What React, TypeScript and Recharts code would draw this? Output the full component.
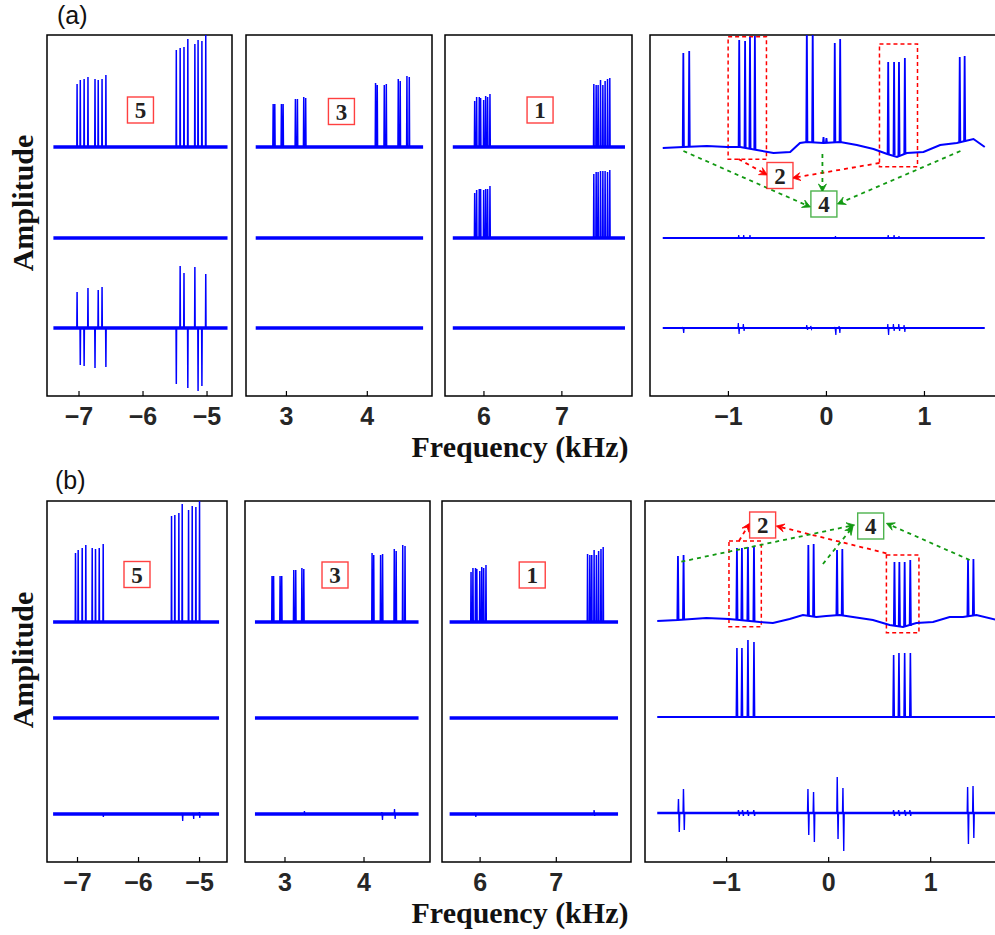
import React from 'react';
import { LineChart, Line, XAxis, YAxis, ReferenceArea, ReferenceLine, ReferenceDot } from 'recharts';

// plot box height; amplitude units are about one pixel each
const PLOT_H = 361;
const BLUE = '#0000ff';
const RED = '#ff0000';
const GREEN = '#119911';

// tick values per column
const TICKS_1 = [-7, -6, -5];
const TICKS_2 = [3, 4];
const TICKS_3 = [6, 7];
const TICKS_4 = [-1, 0, 1];

// frequency span of each trace (kHz)
const SPAN_1 = [-7.4, -4.68];
const SPAN_2 = [2.62, 4.69];
const SPAN_3 = [5.6, 7.81];
const SPAN_4A = [-1.67, 1.615];
const SPAN_4B = [-1.68, 1.65];

// baseline levels of the three traces
const BASE_A = [249, 158, 68];
const BASE_B = [240, 144, 48];

// ---- (a) peaks: [kHz, height]
const A1_TOP = [[-7.03, 63], [-6.98, 67], [-6.92, 68], [-6.86, 70], [-6.75, 68], [-6.7, 67], [-6.64, 68], [-6.58, 72],
  [-5.48, 97], [-5.42, 99], [-5.36, 100], [-5.3, 108], [-5.19, 103], [-5.14, 107], [-5.08, 106], [-5.02, 112]];
const A1_BOT = [[-7.03, 36], [-6.98, -37], [-6.92, -38], [-6.86, 40], [-6.75, -40], [-6.7, 38], [-6.64, 41], [-6.58, -39],
  [-5.48, -56], [-5.42, 62], [-5.36, 55], [-5.3, -60], [-5.19, 61], [-5.14, -63], [-5.08, -58], [-5.02, 54]];
const A2_TOP = [[2.836, 43], [2.856, 43], [2.938, 43], [2.959, 43], [3.111, 48], [3.136, 48], [3.214, 50], [3.238, 49],
  [4.102, 64], [4.123, 62], [4.21, 62], [4.235, 63], [4.383, 68], [4.407, 66], [4.49, 71], [4.519, 70]];
const A3_TOP = [[5.881, 46], [5.906, 50], [5.94, 50], [5.957, 49], [5.996, 47], [6.022, 51], [6.047, 50], [6.077, 53],
  [7.41, 63], [7.44, 62], [7.465, 62], [7.496, 67], [7.526, 62], [7.555, 66], [7.586, 68], [7.615, 69]];
const A3_MID = [[5.881, 45], [5.906, 48], [5.94, 49], [5.957, 49], [5.996, 48], [6.022, 49], [6.047, 49], [6.077, 52],
  [7.41, 64], [7.44, 66], [7.465, 66], [7.496, 67], [7.526, 67], [7.555, 67], [7.586, 66], [7.615, 68]];

// (a) right column: wavy baseline [kHz, level], peaks [kHz, base, top]
const A4_TOP_BASE = [[-1.67, 248], [-1.46, 249], [-1.22, 250], [-1.01, 249], [-0.88, 249], [-0.71, 246], [-0.54, 243],
  [-0.37, 244], [-0.27, 253], [-0.2, 254], [-0.03, 253], [0.14, 254], [0.31, 251], [0.48, 247], [0.62, 242], [0.72, 239],
  [0.82, 243], [0.99, 244], [1.16, 251], [1.33, 253], [1.5, 257], [1.615, 249]];
const A4_TOP_PEAKS = [[-1.46, 249, 343], [-1.4, 249, 345], [-0.89, 249, 356], [-0.83, 248, 355], [-0.78, 248, 359],
  [-0.73, 247, 360], [-0.2, 254, 370], [-0.14, 254, 370], [-0.03, 253, 259], [0.0, 253, 258], [0.085, 253, 353],
  [0.14, 254, 357], [0.63, 242, 334], [0.69, 241, 334], [0.74, 240, 334], [0.8, 242, 338], [1.36, 253, 339], [1.41, 254, 340]];
const A4_MID = [[-0.895, 3], [-0.844, 3], [-0.78, 3], [0.092, 2], [0.63, 3], [0.69, 3], [0.74, 2]];
// [kHz, up, down]
const A4_BOT = [[-1.46, 1, 5], [-0.895, 5, 6], [-0.844, 4, 3], [-0.197, 3, 2], [-0.156, 2, 1], [0.092, 1, 7],
  [0.133, 2, 5], [0.63, 4, 7], [0.687, 4, 3], [0.742, 4, 3], [0.796, 3, 4]];

// ---- (b) peaks
const B1_TOP = [[-7.033, 69], [-6.989, 72], [-6.923, 74], [-6.864, 77], [-6.759, 74], [-6.705, 73], [-6.644, 74], [-6.579, 78],
  [-5.459, 106], [-5.405, 107], [-5.339, 109], [-5.284, 118], [-5.18, 112], [-5.12, 116], [-5.06, 115], [-5.0, 121]];
const B2_TOP = [[2.836, 46], [2.856, 46], [2.938, 46], [2.959, 46], [3.111, 52], [3.136, 52], [3.214, 54], [3.238, 53],
  [4.102, 69], [4.123, 67], [4.21, 67], [4.235, 68], [4.383, 73], [4.407, 71], [4.49, 77], [4.519, 76]];
const B3_TOP = [[5.881, 50], [5.906, 54], [5.94, 54], [5.957, 53], [5.996, 51], [6.022, 55], [6.047, 54], [6.077, 57],
  [7.41, 68], [7.44, 67], [7.465, 67], [7.496, 72], [7.526, 67], [7.555, 71], [7.586, 73], [7.615, 75]];
// small residual glitches on the lower (b) traces: [kHz, up, down]
const B1_BOT = [[-6.58, 0, 3], [-5.28, 1, 7], [-5.1, 1, 5], [-5.0, 2, 4]];
const B2_BOT = [[3.25, 3, 1], [4.23, 2, 6], [4.39, 5, 5]];
const B3_BOT = [[5.94, 1, 3], [7.5, 4, 2]];

const B4_TOP_BASE = [[-1.68, 241], [-1.477, 242], [-1.199, 244], [-0.977, 243], [-0.873, 242], [-0.676, 240], [-0.546, 239],
  [-0.382, 243], [-0.252, 247], [-0.121, 245], [-0.023, 246], [0.108, 247], [0.238, 245], [0.434, 242], [0.598, 237],
  [0.729, 235], [0.86, 239], [1.023, 240], [1.186, 245], [1.317, 245], [1.448, 247], [1.65, 242]];
const B4_TOP_PEAKS = [[-1.477, 242, 306], [-1.422, 242, 307], [-0.899, 242, 314], [-0.85, 242, 314], [-0.791, 241, 315],
  [-0.732, 241, 316], [-0.199, 246, 317], [-0.147, 245, 318], [0.082, 247, 312], [0.134, 247, 313], [0.645, 236, 300],
  [0.693, 235, 300], [0.745, 235, 300], [0.8, 236, 302], [1.366, 246, 302], [1.419, 247, 303]];
const B4_MID = [[-0.899, 69], [-0.85, 69], [-0.791, 77], [-0.732, 75], [0.637, 62], [0.689, 64], [0.745, 64], [0.801, 64]];
const B4_MID_BASE = 145;
const B4_BOT_BASE = 49;
const B4_BOT = [[-1.468, 14, 19], [-1.419, 24, 17], [-0.88, 3, 3], [-0.84, 3, 3], [-0.79, 3, 3], [-0.73, 3, 3],
  [-0.199, 24, 22], [-0.144, 21, 29], [0.088, 36, 26], [0.144, 25, 38], [0.64, 3, 3], [0.69, 3, 3], [0.75, 3, 3],
  [0.8, 3, 3], [1.366, 26, 31], [1.419, 27, 25]];

// ---- annotations (data coordinates)
const A4_RECTS = [[-1.003, -0.612, 236.7, 359.3], [0.541, 0.929, 229.3, 352]];
const A4_RED_ARROWS = [[-0.898, 237, -0.602, 221], [0.541, 233, -0.347, 218]];
const A4_GREEN_ARROWS = [[-1.459, 245, -0.163, 189], [-0.041, 242, -0.041, 204], [1.367, 245, 0.112, 192]];
const A4_LABELS: [string, number, number, string][] = [['2', -0.474, 220.5, RED], ['4', -0.026, 192, GREEN]];

const B4_RECTS = [[-0.977, -0.66, 235.3, 321], [0.566, 0.885, 229.3, 307]];
const B4_RED_ARROWS = [[-0.879, 321, -0.775, 338.7], [0.566, 308.7, -0.513, 336]];
const B4_GREEN_ARROWS = [[-1.444, 300.3, 0.255, 337], [-0.056, 298, 0.238, 335.3], [1.382, 302, 0.566, 338.7]];
const B4_LABELS: [string, number, number, string][] = [['2', -0.647, 337, RED], ['4', 0.412, 336, GREEN]];

const A_BOXES: [string, number, number][] = [['5', -6.04, 286], ['3', 3.68, 284.5], ['1', 6.72, 286]];
const B_BOXES: [string, number, number][] = [['5', -6.025, 287.5], ['3', 3.633, 287], ['1', 6.684, 287]];

type Pt = { f: number; v: number | null };
const W = 0.004;

function flat(span: number[], base: number): Pt[] {
  return [{ f: span[0], v: base }, { f: span[1], v: base }];
}
function curve(points: number[][]): Pt[] {
  return points.map(([f, v]) => ({ f, v }));
}
function spikes(peaks: number[][], base: number): Pt[] {
  const out: Pt[] = [];
  peaks.forEach(([f, h]) => {
    out.push({ f: f - W, v: base }, { f, v: base + h }, { f: f + W, v: base }, { f: f + W, v: null });
  });
  return out;
}
function spikesAbs(peaks: number[][]): Pt[] {
  const out: Pt[] = [];
  peaks.forEach(([f, b, t]) => {
    out.push({ f: f - 1.5 * W, v: b }, { f, v: t }, { f: f + 1.5 * W, v: b }, { f: f + 1.5 * W, v: null });
  });
  return out;
}
function wiggles(list: number[][], base: number): Pt[] {
  const out: Pt[] = [];
  list.forEach(([f, up, down]) => {
    out.push({ f: f - 2 * W, v: base }, { f: f - W, v: base + up }, { f: f + W, v: base - down },
      { f: f + 2 * W, v: base }, { f: f + 2 * W, v: null });
  });
  return out;
}

const fmt = (v: number) => (v < 0 ? '\u2212' + Math.abs(v) : String(v));

const numBox = (text: string, color: string) => (p: any) => (
  <g>
    <rect x={p.cx - 13} y={p.cy - 13} width={26} height={26} fill="#fff" stroke={color} strokeOpacity={0.75} strokeWidth={1.4} />
    <text x={p.cx} y={p.cy + 8} textAnchor="middle" fontFamily="Liberation Serif, Times New Roman, serif"
      fontWeight={700} fontSize={23} fill="#222">{text}</text>
  </g>
);

const arrow = (color: string) => (p: any) => {
  const { x1, y1, x2, y2 } = p;
  const a = Math.atan2(y2 - y1, x2 - x1);
  const L = 8;
  const bx = x2 - L * Math.cos(a);
  const by = y2 - L * Math.sin(a);
  const nx = -Math.sin(a) * 4;
  const ny = Math.cos(a) * 4;
  const mx = x2 - 0.6 * L * Math.cos(a);
  const my = y2 - 0.6 * L * Math.sin(a);
  return (
    <g>
      <line x1={x1} y1={y1} x2={mx} y2={my} stroke={color} strokeWidth={1.8} strokeDasharray="4 4" />
      <path d={`M${x2},${y2} L${bx + nx},${by + ny} L${mx},${my} L${bx - nx},${by - ny} Z`} fill={color} stroke={color} strokeWidth={0.8} />
    </g>
  );
};

function annotations(rects: number[][], red: number[][], green: number[][], labels: [string, number, number, string][]) {
  const els: React.ReactNode[] = [];
  rects.forEach(([x1, x2, y1, y2], i) => els.push(
    <ReferenceArea key={'r' + i} x1={x1} x2={x2} y1={y1} y2={y2} fill="none" stroke={RED} strokeWidth={1.5} strokeDasharray="4 3" />
  ));
  red.forEach(([fa, ya, fb, yb], i) => els.push(
    <ReferenceLine key={'ra' + i} segment={[{ x: fa, y: ya }, { x: fb, y: yb }]} shape={arrow(RED)} />
  ));
  green.forEach(([fa, ya, fb, yb], i) => els.push(
    <ReferenceLine key={'ga' + i} segment={[{ x: fa, y: ya }, { x: fb, y: yb }]} shape={arrow(GREEN)} />
  ));
  labels.forEach(([t, f, y, c], i) => els.push(
    <ReferenceDot key={'l' + i} x={f} y={y} r={13} shape={numBox(t, c)} />
  ));
  return els;
}

type Trace = { data: Pt[]; w: number };

function Panel({ left, top, width, domain, ticks, traces, extras }:
  { left: number; top: number; width: number; domain: number[]; ticks: number[]; traces: Trace[]; extras?: React.ReactNode[] }) {
  return (
    <div style={{ position: 'absolute', left: left - 2, top: top - 2 }}>
      <LineChart width={width + 4} height={PLOT_H + 52} margin={{ top: 2, right: 2, bottom: 0, left: 2 }}>
        <XAxis dataKey="f" type="number" domain={domain} ticks={ticks} allowDataOverflow interval={0}
          height={50} tickSize={-5} tickMargin={16} axisLine={false}
          tickLine={{ stroke: '#000', strokeWidth: 1.2 }} tickFormatter={fmt}
          tick={{ fill: '#262626', fontSize: 25, fontWeight: 700, fontFamily: 'Liberation Sans, Arial, sans-serif' }} />
        <XAxis xAxisId="t" orientation="top" dataKey="f" type="number" domain={domain} ticks={ticks} allowDataOverflow
          interval={0} height={0} tickSize={-5} tick={false} axisLine={false} tickLine={{ stroke: '#000', strokeWidth: 1.2 }} />
        <YAxis hide type="number" domain={[0, PLOT_H]} allowDataOverflow />
        <ReferenceArea y1={0} y2={PLOT_H} fill="none" stroke="#000" strokeWidth={1.5} />
        {traces.map((t, i) => (
          <Line key={i} data={t.data} dataKey="v" type="linear" stroke={BLUE} strokeWidth={t.w}
            dot={false} activeDot={false} isAnimationActive={false} />
        ))}
        {extras}
      </LineChart>
    </div>
  );
}

const boxEl = (b: [string, number, number]) => [
  <ReferenceDot key="box" x={b[1]} y={b[2]} r={13} shape={numBox(b[0], RED)} />,
];

const NOISY = 3.5;
const PEAK = 1.5;

const textStyle: React.CSSProperties = {
  position: 'absolute', fontFamily: 'Liberation Serif, Times New Roman, serif', fontWeight: 700,
  fontSize: 30, lineHeight: '34px', color: '#111', whiteSpace: 'nowrap',
};
const tagStyle: React.CSSProperties = {
  position: 'absolute', fontFamily: 'Liberation Sans, Arial, sans-serif', fontSize: 25, lineHeight: '30px', color: '#111',
};

export default function App() {
  const A_TOP = 35;
  const B_TOP = 501;
  return (
    <div style={{ position: 'absolute', left: 0, top: 0, width: 995, height: 935, overflow: 'hidden', background: '#fff' }}>
      {/* row (a) */}
      <Panel left={47} top={A_TOP} width={185} domain={[-7.5, -4.61]} ticks={TICKS_1}
        traces={[
          { data: flat(SPAN_1, BASE_A[0]), w: NOISY }, { data: spikes(A1_TOP, BASE_A[0]), w: PEAK },
          { data: flat(SPAN_1, BASE_A[1]), w: NOISY },
          { data: flat(SPAN_1, BASE_A[2]), w: NOISY }, { data: spikes(A1_BOT, BASE_A[2]), w: PEAK },
        ]} extras={boxEl(A_BOXES[0])} />
      <Panel left={246} top={A_TOP} width={186} domain={[2.5, 4.8]} ticks={TICKS_2}
        traces={[
          { data: flat(SPAN_2, BASE_A[0]), w: NOISY }, { data: spikes(A2_TOP, BASE_A[0]), w: PEAK },
          { data: flat(SPAN_2, BASE_A[1]), w: NOISY },
          { data: flat(SPAN_2, BASE_A[2]), w: NOISY },
        ]} extras={boxEl(A_BOXES[1])} />
      <Panel left={445} top={A_TOP} width={187} domain={[5.5, 7.9]} ticks={TICKS_3}
        traces={[
          { data: flat(SPAN_3, BASE_A[0]), w: NOISY }, { data: spikes(A3_TOP, BASE_A[0]), w: PEAK },
          { data: flat(SPAN_3, BASE_A[1]), w: NOISY }, { data: spikes(A3_MID, BASE_A[1]), w: PEAK },
          { data: flat(SPAN_3, BASE_A[2]), w: NOISY },
        ]} extras={boxEl(A_BOXES[2])} />
      <Panel left={650} top={A_TOP} width={347} domain={[-1.8, 1.74]} ticks={TICKS_4}
        traces={[
          { data: curve(A4_TOP_BASE), w: 2 }, { data: spikesAbs(A4_TOP_PEAKS), w: 1.8 },
          { data: flat(SPAN_4A, BASE_A[1]), w: 2.2 }, { data: spikes(A4_MID, BASE_A[1]), w: 1.2 },
          { data: flat(SPAN_4A, BASE_A[2]), w: 2.2 }, { data: wiggles(A4_BOT, BASE_A[2]), w: 1.2 },
        ]} extras={annotations(A4_RECTS, A4_RED_ARROWS, A4_GREEN_ARROWS, A4_LABELS)} />

      {/* row (b) */}
      <Panel left={47} top={B_TOP} width={180} domain={[-7.5, -4.55]} ticks={TICKS_1}
        traces={[
          { data: flat(SPAN_1, BASE_B[0]), w: NOISY }, { data: spikes(B1_TOP, BASE_B[0]), w: PEAK },
          { data: flat(SPAN_1, BASE_B[1]), w: NOISY },
          { data: flat(SPAN_1, BASE_B[2]), w: NOISY }, { data: wiggles(B1_BOT, BASE_B[2]), w: 1.3 },
        ]} extras={boxEl(B_BOXES[0])} />
      <Panel left={245} top={B_TOP} width={185} domain={[2.494, 4.835]} ticks={TICKS_2}
        traces={[
          { data: flat(SPAN_2, BASE_B[0]), w: NOISY }, { data: spikes(B2_TOP, BASE_B[0]), w: PEAK },
          { data: flat(SPAN_2, BASE_B[1]), w: NOISY },
          { data: flat(SPAN_2, BASE_B[2]), w: NOISY }, { data: wiggles(B2_BOT, BASE_B[2]), w: 1.3 },
        ]} extras={boxEl(B_BOXES[1])} />
      <Panel left={442} top={B_TOP} width={189} domain={[5.5, 7.98]} ticks={TICKS_3}
        traces={[
          { data: flat(SPAN_3, BASE_B[0]), w: NOISY }, { data: spikes(B3_TOP, BASE_B[0]), w: PEAK },
          { data: flat(SPAN_3, BASE_B[1]), w: NOISY },
          { data: flat(SPAN_3, BASE_B[2]), w: NOISY }, { data: wiggles(B3_BOT, BASE_B[2]), w: 1.3 },
        ]} extras={boxEl(B_BOXES[2])} />
      <Panel left={645} top={B_TOP} width={352} domain={[-1.8, 1.65]} ticks={TICKS_4}
        traces={[
          { data: curve(B4_TOP_BASE), w: 2 }, { data: spikesAbs(B4_TOP_PEAKS), w: 1.8 },
          { data: flat(SPAN_4B, B4_MID_BASE), w: 2 }, { data: spikesAbs(B4_MID.map(([f, h]) => [f, B4_MID_BASE, B4_MID_BASE + h])), w: 1.6 },
          { data: flat(SPAN_4B, B4_BOT_BASE), w: 2.4 }, { data: wiggles(B4_BOT, B4_BOT_BASE), w: 1.4 },
        ]} extras={annotations(B4_RECTS, B4_RED_ARROWS, B4_GREEN_ARROWS, B4_LABELS)} />

      {/* labels */}
      <div style={{ ...tagStyle, left: 57, top: 0 }}>(a)</div>
      <div style={{ ...tagStyle, left: 55, top: 465 }}>(b)</div>
      <div style={{ ...textStyle, left: 320, width: 400, textAlign: 'center', top: 430 }}>Frequency (kHz)</div>
      <div style={{ ...textStyle, left: 320, width: 400, textAlign: 'center', top: 896 }}>Frequency (kHz)</div>
      <div style={{ ...textStyle, left: 23 - 100, top: 203 - 17, width: 200, textAlign: 'center', transform: 'rotate(-90deg)' }}>Amplitude</div>
      <div style={{ ...textStyle, left: 23 - 100, top: 660 - 17, width: 200, textAlign: 'center', transform: 'rotate(-90deg)' }}>Amplitude</div>
    </div>
  );
}
